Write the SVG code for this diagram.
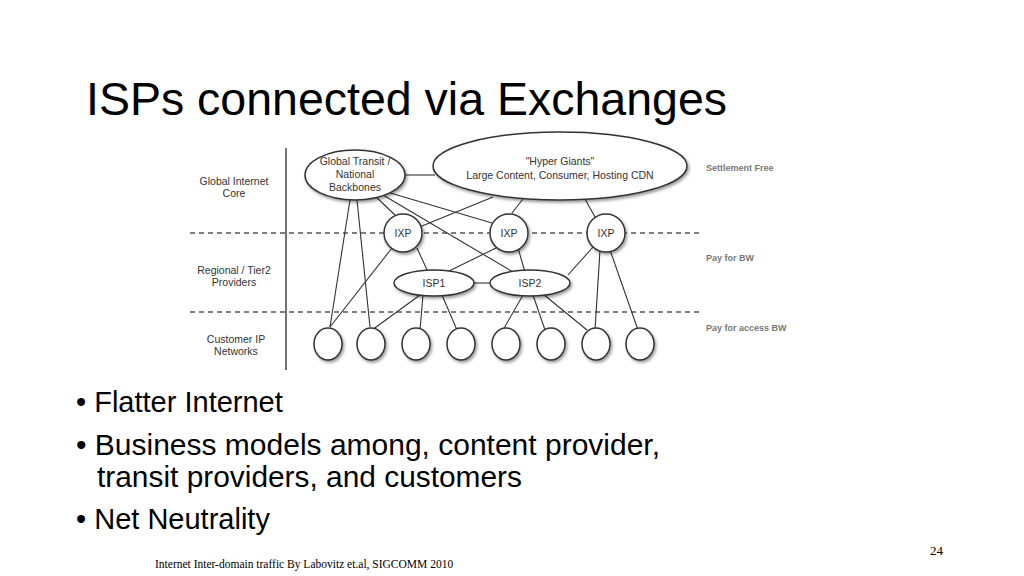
<svg xmlns="http://www.w3.org/2000/svg" width="1024" height="576" viewBox="0 0 1024 576">
<style>
.t{font-family:"Liberation Sans",Arial,sans-serif;fill:#000}
.s{font-family:"Liberation Sans",Arial,sans-serif;font-size:10.5px;fill:#333;text-anchor:middle}
.r{font-family:"Liberation Sans",Arial,sans-serif;font-size:9px;font-weight:bold;fill:#777}
.n{fill:#fff;stroke:#333;stroke-width:1.5;filter:url(#sh)}
.c line{stroke:#333;stroke-width:1.1}
.d{stroke:#555;stroke-width:1.3;stroke-dasharray:5,4}
</style>
<defs><filter id="sh" x="-20%" y="-20%" width="150%" height="150%"><feDropShadow dx="1.5" dy="2" stdDeviation="1.5" flood-color="#000" flood-opacity="0.4"/></filter></defs>
<rect width="1024" height="576" fill="#fff"/>
<text class="t" x="86" y="115" font-size="46.5">ISPs connected via Exchanges</text>
<line x1="286" y1="148" x2="286" y2="370" stroke="#444" stroke-width="1.5"/>
<line class="d" x1="190" y1="233" x2="700" y2="233"/>
<line class="d" x1="190" y1="312" x2="700" y2="312"/>
<text class="s" x="234" y="185">Global Internet</text><text class="s" x="234" y="197">Core</text>
<text class="s" x="234" y="274">Regional / Tier2</text><text class="s" x="234" y="286">Providers</text>
<text class="s" x="236" y="343">Customer IP</text><text class="s" x="236" y="355">Networks</text>
<text class="r" x="706" y="171">Settlement Free</text>
<text class="r" x="706" y="261">Pay for BW</text>
<text class="r" x="706" y="331">Pay for access BW</text>
<g class="c" id="connectors">
<line x1="405" y1="175" x2="435" y2="175"/>
<line x1="375" y1="196" x2="395" y2="215"/>
<line x1="350" y1="200" x2="330" y2="327"/>
<line x1="357" y1="200" x2="370" y2="327"/>
<line x1="392" y1="248" x2="330" y2="327"/>
<line x1="493" y1="197" x2="417" y2="228"/>
<line x1="387" y1="192" x2="492" y2="223"/>
<line x1="383" y1="195" x2="513" y2="272"/>
<line x1="417" y1="248" x2="428" y2="272"/>
<line x1="498" y1="247" x2="447" y2="272"/>
<line x1="518" y1="248" x2="525" y2="272"/>
<line x1="523" y1="199" x2="512" y2="213"/>
<line x1="585" y1="199" x2="595" y2="217"/>
<line x1="593" y1="247" x2="568" y2="275"/>
<line x1="474" y1="283" x2="490" y2="283"/>
<line x1="420" y1="295" x2="372" y2="330"/>
<line x1="423" y1="295" x2="420" y2="330"/>
<line x1="442" y1="295" x2="457" y2="330"/>
<line x1="523" y1="295" x2="503" y2="330"/>
<line x1="533" y1="295" x2="545" y2="330"/>
<line x1="543" y1="294" x2="587" y2="330"/>
<line x1="600" y1="250" x2="595" y2="330"/>
<line x1="610" y1="250" x2="638" y2="330"/>
</g>
<g id="gt"><ellipse class="n" cx="355" cy="175" rx="50" ry="25"/><text class="s" x="355" y="165">Global Transit /</text><text class="s" x="355" y="178">National</text><text class="s" x="355" y="191">Backbones</text></g>
<g id="hg"><ellipse class="n" cx="560" cy="166" rx="127" ry="34"/><text class="s" x="560" y="165">"Hyper Giants"</text><text class="s" x="560" y="179">Large Content, Consumer, Hosting CDN</text></g>
<g id="ixp1"><circle class="n" cx="403" cy="233" r="19"/><text class="s" x="403" y="237">IXP</text></g>
<g id="ixp2"><circle class="n" cx="509" cy="233" r="19"/><text class="s" x="509" y="237">IXP</text></g>
<g id="ixp3"><circle class="n" cx="606" cy="233" r="19"/><text class="s" x="606" y="237">IXP</text></g>
<g id="isp1"><ellipse class="n" cx="434" cy="283" rx="40" ry="13"/><text class="s" x="434" y="287">ISP1</text></g>
<g id="isp2"><ellipse class="n" cx="530" cy="283" rx="40" ry="13"/><text class="s" x="530" y="287">ISP2</text></g>
<g id="c1"><ellipse class="n" cx="328" cy="344" rx="14" ry="16"/></g>
<g id="c2"><ellipse class="n" cx="371" cy="344" rx="14" ry="16"/></g>
<g id="c3"><ellipse class="n" cx="416" cy="344" rx="14" ry="16"/></g>
<g id="c4"><ellipse class="n" cx="461" cy="344" rx="14" ry="16"/></g>
<g id="c5"><ellipse class="n" cx="506" cy="344" rx="14" ry="16"/></g>
<g id="c6"><ellipse class="n" cx="551" cy="344" rx="14" ry="16"/></g>
<g id="c7"><ellipse class="n" cx="596" cy="344" rx="14" ry="16"/></g>
<g id="c8"><ellipse class="n" cx="640" cy="344" rx="14" ry="16"/></g>
<g class="t" font-size="29">
<text x="76" y="412">• Flatter Internet</text>
<text x="76" y="455" textLength="584" lengthAdjust="spacingAndGlyphs">• Business models among, content provider,</text>
<text x="97" y="487" textLength="425" lengthAdjust="spacingAndGlyphs">transit providers, and customers</text>
<text x="76" y="529">• Net Neutrality</text>
</g>
<text x="155" y="568" font-family="Liberation Serif,serif" font-size="11.5">Internet Inter-domain traffic By Labovitz et.al, SIGCOMM 2010</text>
<text x="930" y="555" font-family="Liberation Serif,serif" font-size="13">24</text>
</svg>
